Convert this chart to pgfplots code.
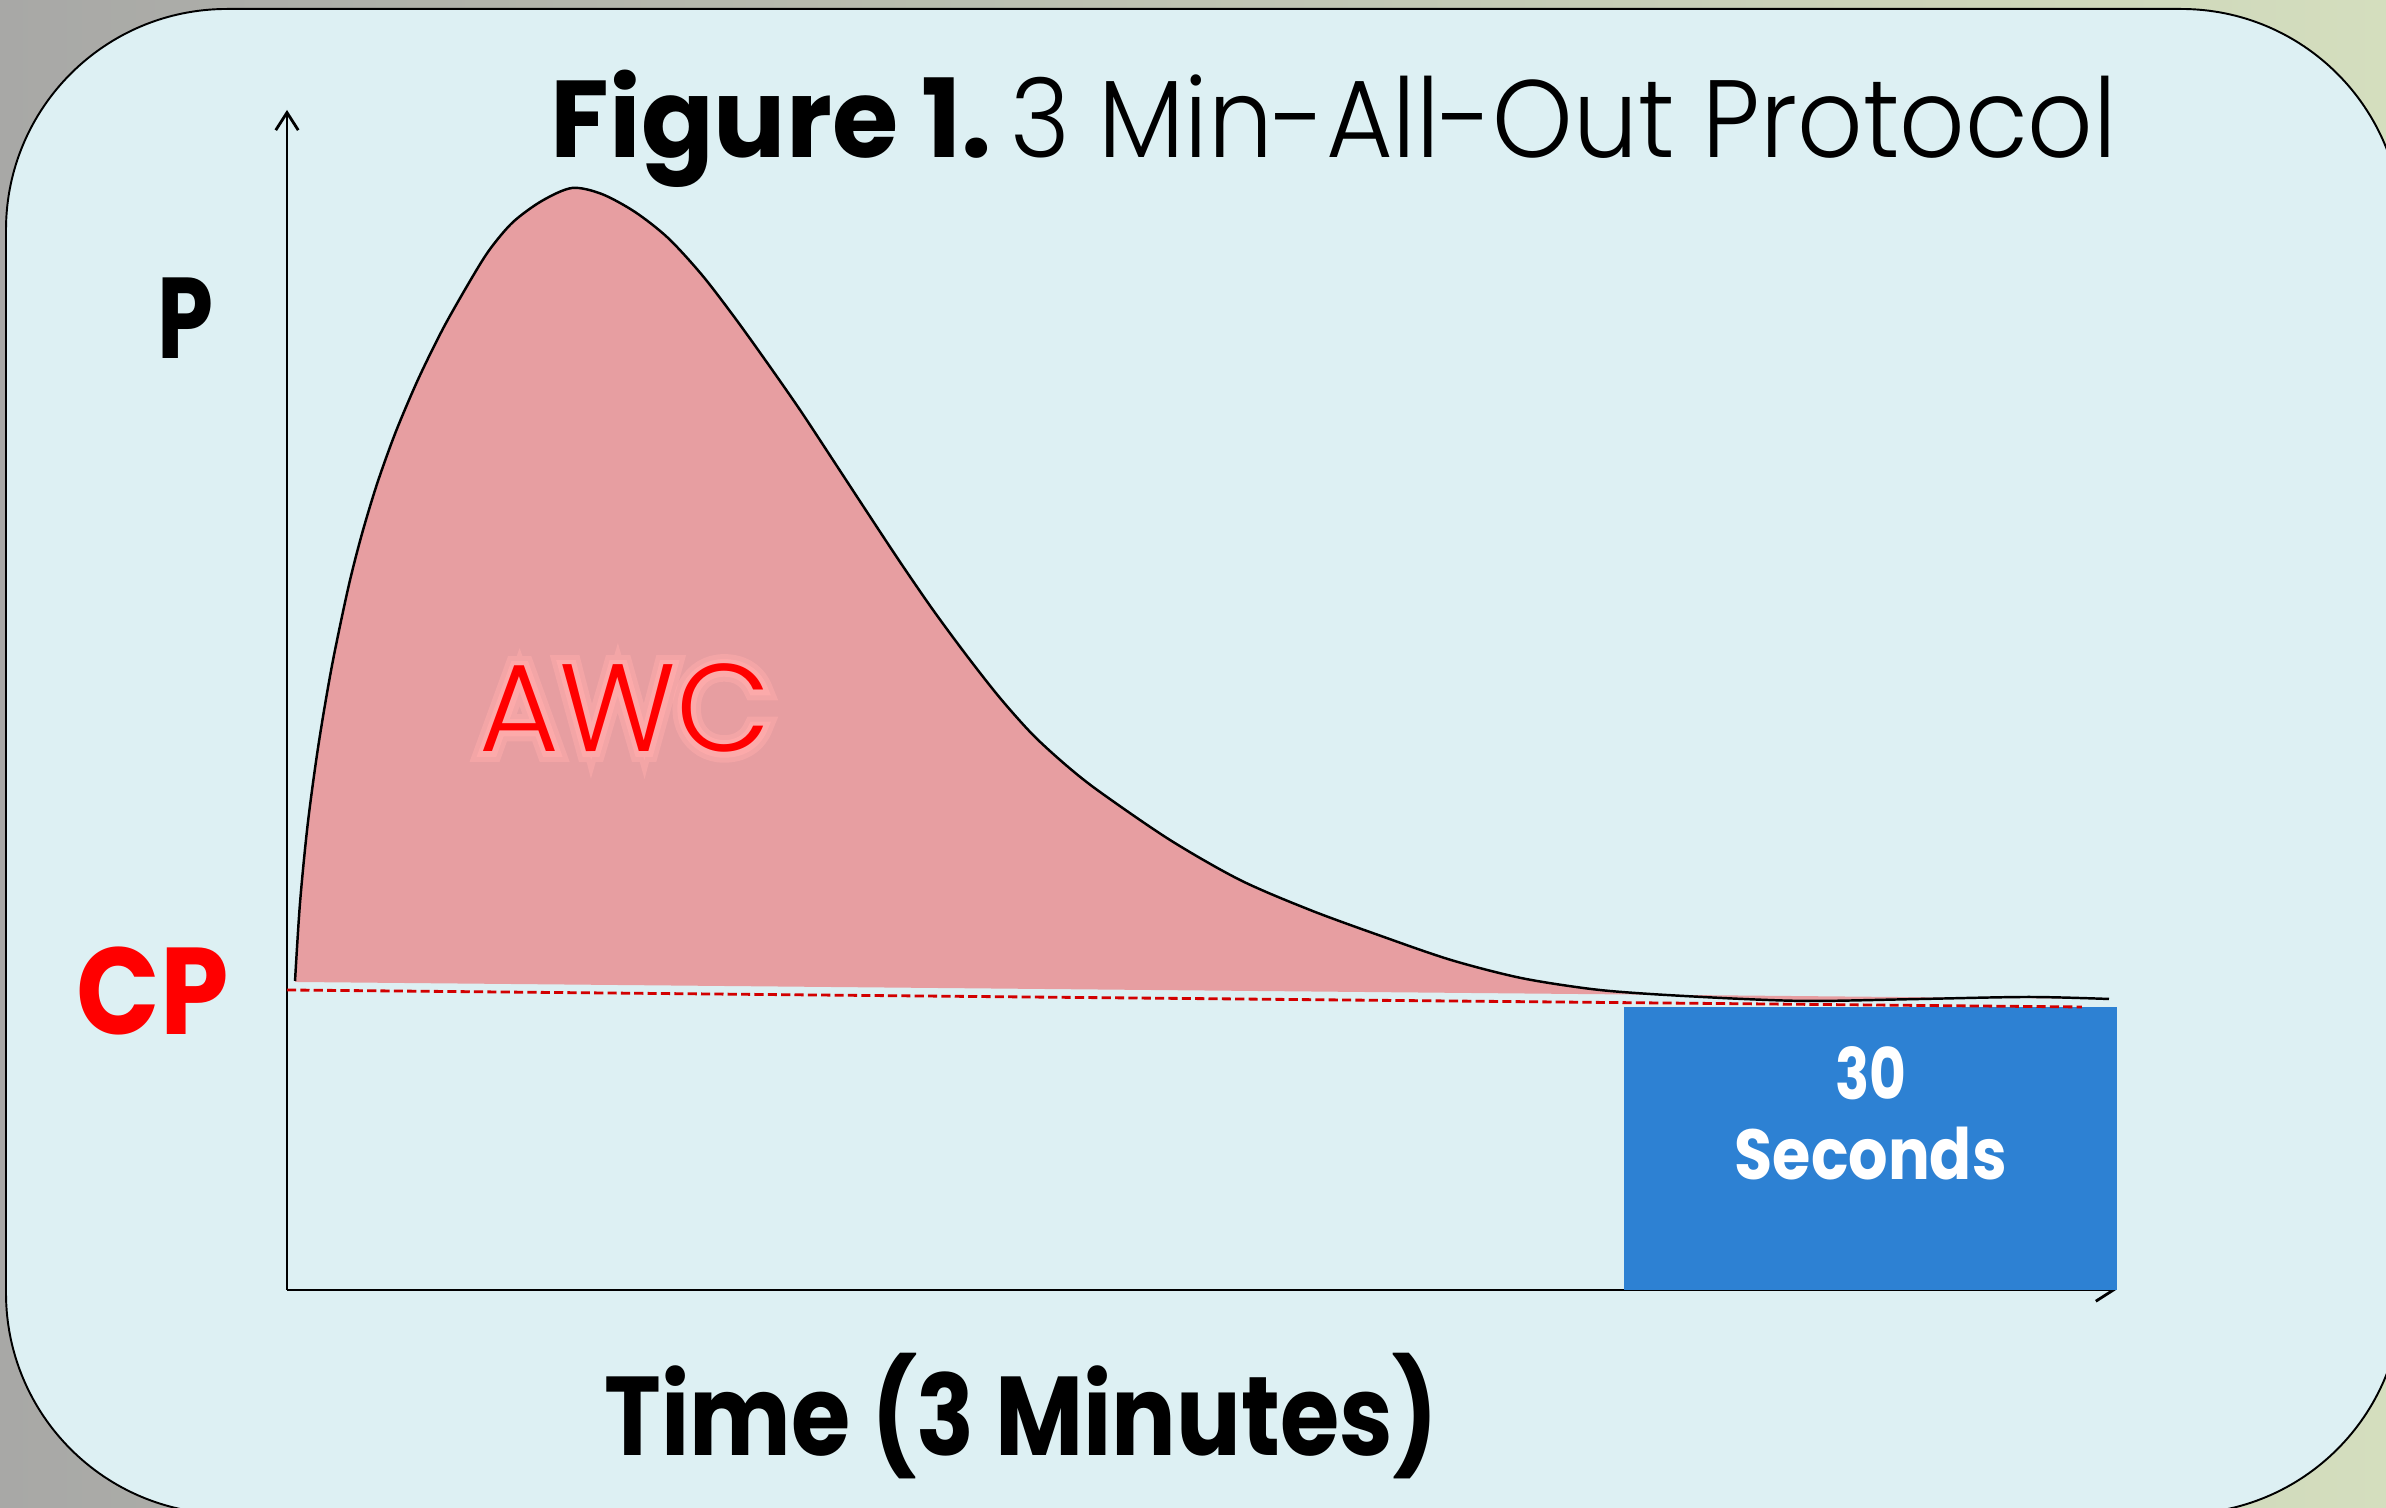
\documentclass[border=0pt]{standalone}
\usepackage{pgfplots}
\pgfplotsset{compat=1.18}
\usepackage{pgfplotstable}
\usetikzlibrary{arrows.meta}
\usepackage{graphicx}
\usepackage{fontspec}
\setmainfont{Poppins}
\newfontfamily\plight{Poppins Light}
\newfontfamily\plightglowA{Poppins Light}[FakeBold=16]
\newfontfamily\plightglowB{Poppins Light}[FakeBold=8]
\definecolor{bgc}{RGB}{221,240,243}
\definecolor{outg}{RGB}{168,168,166}
\definecolor{outgreen}{RGB}{212,222,190}
\definecolor{awcfill}{RGB}{231,158,161}
\definecolor{barblue}{RGB}{45,129,211}
\definecolor{dashred}{RGB}{210,0,0}
\definecolor{glow}{RGB}{255,172,172}
\newcommand{\fitt}[3]{\resizebox{#1}{#2}{\raisebox{0pt}[\fontcharht\font`H][0pt]{#3}}}

% time (s) vs power (arbitrary units)
\pgfplotstableread{
t p
0.79 309
1.28 387
2.04 466
3.08 544
4.40 623
6.00 701
7.32 754
8.86 806
10.70 858
12.92 911
15.44 963
18.36 1015
20.06 1042
22.25 1068
25.07 1089
28.05 1102
30.97 1096
34.25 1078
37.50 1052
40.84 1015
44.09 972
47.34 926
50.49 880
53.73 830
57.08 778
60.33 728
63.58 680
66.92 634
70.17 592
73.42 555
76.76 524
80.01 498
86.90 450
93.79 410
100.68 380
107.67 354
114.55 330
121.44 312
128.33 301
134.14 296
143.29 291
150.28 289
160.81 291
171.44 293
179.31 291
}\powercurve

\begin{document}
\begin{tikzpicture}[x=1cm,y=1cm]
\begin{scope}
\clip (0,0) rectangle (23.86,15.08);
\shade[left color=outg, right color=outgreen] (0,0) rectangle (23.86,15.08);
\draw[fill=bgc, line width=0.55pt, rounded corners=2.21cm] (0.06,-0.06) rectangle (24.02,14.99);
\end{scope}
\begin{axis}[
  at={(2.87cm,2.18cm)}, anchor=south west,
  scale only axis, width=18.29cm, height=11.80cm,
  xmin=0, xmax=180, ymin=0, ymax=1180,
  axis lines=left,
  axis line style={line width=0.8pt, -{Straight Barb[length=5pt,width=6.4pt]}},
  xtick=\empty, ytick=\empty,
  clip=false,
]
\addplot[fill=awcfill, draw=none, smooth] table[x=t, y=p] {\powercurve} -- (axis cs:0.79,308) -- cycle;
\addplot[fill=barblue, draw=none] coordinates {(131.6,283) (180.1,283)} \closedcycle;
\addplot[dashred, line width=0.8pt, dash pattern=on 2.6pt off 1.2pt] coordinates {(0,300) (176.65,283)};
\addplot[black, line width=0.7pt, smooth] table[x=t, y=p] {\powercurve};
\end{axis}
% title
\node[anchor=base west, inner sep=0pt] at (5.50,13.50) {\bfseries\fitt{4.41cm}{0.77cm}{Figure 1.}};
\node[anchor=base west, inner sep=0pt] at (10.10,13.50) {\plight\fitt{11.06cm}{0.77cm}{3 Min-All-Out Protocol}};
% axis labels
\node[anchor=base west, inner sep=0pt] at (1.57,11.49) {\bfseries\fitt{0.56cm}{0.81cm}{P}};
\node[anchor=base west, inner sep=0pt, text=red] at (0.76,4.73) {\bfseries\fitt{1.52cm}{0.87cm}{CP}};
\node[anchor=base west, inner sep=0pt] at (6.04,0.52) {\bfseries\fitt{8.34cm}{0.79cm}{Time (3 Minutes)}};
% AWC with a soft glow
\node[anchor=base west, inner sep=0pt, text=glow, opacity=0.5] at (4.79,7.56) {\plightglowA\fitt{2.91cm}{0.87cm}{AWC}};
\node[anchor=base west, inner sep=0pt, text=glow, opacity=0.8] at (4.79,7.56) {\plightglowB\fitt{2.91cm}{0.87cm}{AWC}};
\node[anchor=base west, inner sep=0pt, text=red] at (4.79,7.56) {\plight\fitt{2.91cm}{0.87cm}{AWC}};
% 30 seconds
\node[anchor=base west, inner sep=0pt, text=white] at (18.35,4.08) {\bfseries\fitt{0.71cm}{0.50cm}{30}};
\node[anchor=base west, inner sep=0pt, text=white] at (17.34,3.28) {\bfseries\fitt{2.72cm}{0.50cm}{Seconds}};
\pgfresetboundingbox
\path[use as bounding box] (0,0) rectangle (23.86,15.08);
\end{tikzpicture}
\end{document}
